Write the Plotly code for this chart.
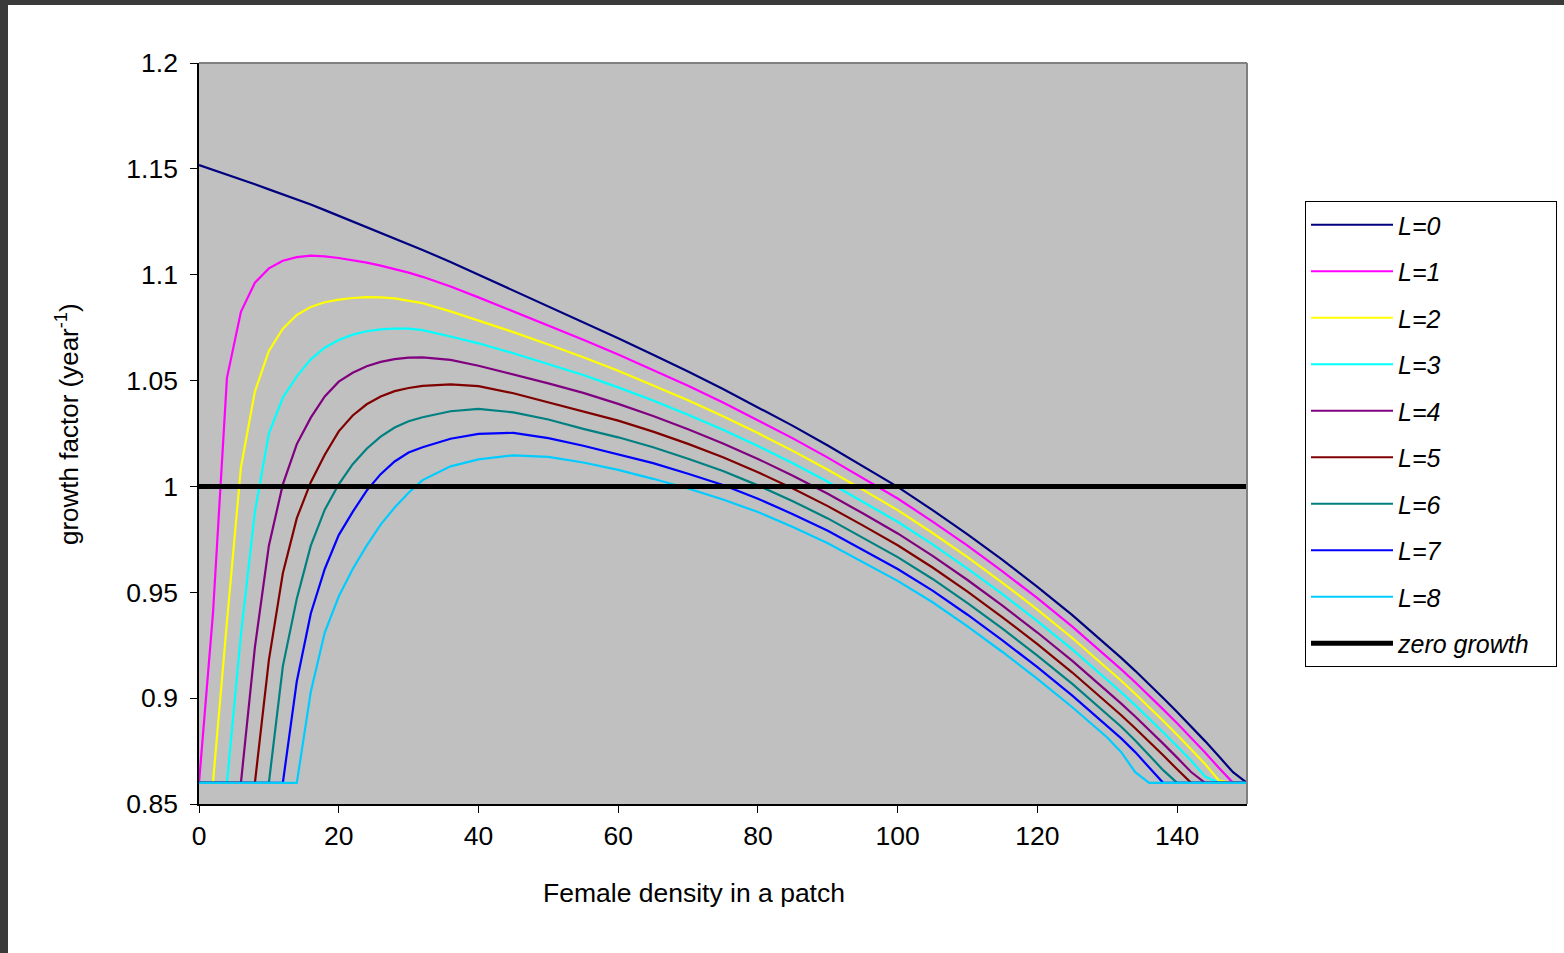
import plotly.graph_objects as go

# Female density in a patch (shared x for all series)
density = [0, 2, 4, 6, 8, 10, 12, 14, 16, 18, 20, 22, 24, 26, 28, 30, 32, 36, 40,
           45, 50, 55, 60, 65, 70, 75, 80, 85, 90, 95, 100, 105, 110, 115, 120, 125,
           130, 132, 134, 136, 138, 140, 142, 144, 146, 148, 150]

L0 = [1.1518, 1.1496, 1.1473, 1.1450, 1.1427, 1.1403, 1.1380, 1.1356, 1.1332, 1.1305,
      1.1278, 1.1252, 1.1226, 1.1199, 1.1172, 1.1145, 1.1117, 1.1060, 1.1000,
      1.0925, 1.0850, 1.0776, 1.0700, 1.0622, 1.0543, 1.0460, 1.0374, 1.0286, 1.0193,
      1.0097, 0.9998, 0.9888, 0.9774, 0.9653, 0.9526, 0.9392,
      0.9249, 0.9190, 0.9129, 0.9066, 0.9001, 0.8935, 0.8867, 0.8797, 0.8724, 0.8650, 0.8600]

L1 = [0.86, 0.940, 1.0513, 1.0825, 1.0962, 1.1030, 1.1066, 1.1083, 1.1090, 1.1087,
      1.1079, 1.1069, 1.1057, 1.1043, 1.1027, 1.1010, 1.0990, 1.0944, 1.0893,
      1.0827, 1.0760, 1.0693, 1.0623, 1.0550, 1.0475, 1.0396, 1.0313, 1.0227, 1.0136,
      1.0041, 0.9943, 0.9834, 0.9720, 0.9599, 0.9472, 0.9338,
      0.9195, 0.9136, 0.9075, 0.9012, 0.8947, 0.8881, 0.8813, 0.8743, 0.8670, 0.86, 0.86]

L2 = [0.86, 0.86, 0.936, 1.009, 1.0448, 1.0640, 1.0745, 1.0810, 1.0848, 1.0870,
      1.0882, 1.0890, 1.0894, 1.0893, 1.0888, 1.0878, 1.0866, 1.0827, 1.0785,
      1.0729, 1.0670, 1.0610, 1.0546, 1.0478, 1.0407, 1.0332, 1.0252, 1.0168, 1.0079,
      0.9985, 0.9888, 0.9780, 0.9666, 0.9545, 0.9418, 0.9284,
      0.9141, 0.9082, 0.9021, 0.8958, 0.8893, 0.8827, 0.8759, 0.8689, 0.8610, 0.86, 0.86]

L3 = [0.86, 0.86, 0.86, 0.930, 0.988, 1.025, 1.042, 1.052, 1.060, 1.0655,
      1.0692, 1.0717, 1.0733, 1.0742, 1.0746, 1.0745, 1.0738, 1.0708, 1.0676,
      1.0629, 1.0578, 1.0526, 1.0468, 1.0406, 1.0339, 1.0268, 1.0191, 1.0109, 1.0022,
      0.9929, 0.9833, 0.9726, 0.9612, 0.9491, 0.9364, 0.9230,
      0.9087, 0.9028, 0.8967, 0.8904, 0.8839, 0.8773, 0.8705, 0.8630, 0.86, 0.86, 0.86]

L4 = [0.86, 0.86, 0.86, 0.86, 0.924, 0.972, 1.001, 1.020, 1.0325, 1.0425,
      1.0495, 1.0537, 1.0568, 1.0588, 1.0601, 1.0608, 1.0610, 1.0598, 1.0570,
      1.0529, 1.0487, 1.0442, 1.0390, 1.0333, 1.0270, 1.0203, 1.0130, 1.0050, 0.9965,
      0.9873, 0.9778, 0.9672, 0.9558, 0.9437, 0.9310, 0.9176,
      0.9033, 0.8974, 0.8913, 0.8850, 0.8785, 0.8719, 0.8651, 0.86, 0.86, 0.86, 0.86]

L5 = [0.86, 0.86, 0.86, 0.86, 0.86, 0.918, 0.959, 0.985, 1.002, 1.015,
      1.026, 1.0335, 1.0388, 1.0425, 1.0450, 1.0465, 1.0475, 1.0482, 1.0474,
      1.0440, 1.0398, 1.0356, 1.0311, 1.0259, 1.0201, 1.0138, 1.0067, 0.9990, 0.9907,
      0.9816, 0.9722, 0.9617, 0.9503, 0.9382, 0.9255, 0.9121,
      0.8978, 0.8919, 0.8858, 0.8795, 0.8730, 0.8664, 0.86, 0.86, 0.86, 0.86, 0.86]

L6 = [0.86, 0.86, 0.86, 0.86, 0.86, 0.86, 0.915, 0.947, 0.972, 0.989,
      1.001, 1.0105, 1.0178, 1.0235, 1.0278, 1.0308, 1.0327, 1.0355, 1.0366,
      1.0350, 1.0316, 1.0272, 1.0232, 1.0185, 1.0131, 1.0073, 1.0005, 0.9930, 0.9849,
      0.9759, 0.9666, 0.9563, 0.9449, 0.9328, 0.9201, 0.9067,
      0.8924, 0.8865, 0.8800, 0.8732, 0.8660, 0.86, 0.86, 0.86, 0.86, 0.86, 0.86]

L7 = [0.86, 0.86, 0.86, 0.86, 0.86, 0.86, 0.86, 0.908, 0.940, 0.961,
      0.977, 0.988, 0.998, 1.0058, 1.0118, 1.0160, 1.0185, 1.0225, 1.0248,
      1.0253, 1.0228, 1.0192, 1.0151, 1.0110, 1.0060, 1.0007, 0.9942, 0.9869, 0.9791,
      0.9702, 0.9610, 0.9508, 0.9394, 0.9273, 0.9146, 0.9012,
      0.8869, 0.8810, 0.8745, 0.8670, 0.86, 0.86, 0.86, 0.86, 0.86, 0.86, 0.86]

L8 = [0.86, 0.86, 0.86, 0.86, 0.86, 0.86, 0.86, 0.86, 0.903, 0.931,
      0.948, 0.961, 0.972, 0.982, 0.990, 0.997, 1.003, 1.0095, 1.0128,
      1.0147, 1.0140, 1.0113, 1.0078, 1.0036, 0.9990, 0.9938, 0.9879, 0.9808, 0.9732,
      0.9645, 0.9554, 0.9453, 0.9339, 0.9218, 0.9091, 0.8957,
      0.8814, 0.8745, 0.8650, 0.86, 0.86, 0.86, 0.86, 0.86, 0.86, 0.86, 0.86]

zero_x = [0, 150]
zero_y = [1.0, 1.0]

series_names = ["L=0", "L=1", "L=2", "L=3", "L=4", "L=5", "L=6", "L=7", "L=8"]
series_values = [L0, L1, L2, L3, L4, L5, L6, L7, L8]
series_colors = ["#000080", "#FF00FF", "#FFFF00", "#00FFFF", "#800080",
                 "#800000", "#008080", "#0000FF", "#00CCFF"]

x_ticks = [0, 20, 40, 60, 80, 100, 120, 140]

FONT = "Liberation Sans, Arial, sans-serif"

fig = go.Figure()
for i, (name, vals, col) in enumerate(zip(series_names, series_values, series_colors)):
    fig.add_trace(go.Scatter(x=density, y=vals, mode="lines", name="<i>" + name + "</i>",
                             legendgroup="g%d" % i,
                             line=dict(color=col, width=2.2)))
fig.add_trace(go.Scatter(x=zero_x, y=zero_y, mode="lines",
                         name="<i>zero growth</i>&nbsp;&nbsp;&nbsp;",
                         legendgroup="gz", line=dict(color="black", width=5)))

# page layout: the figure sits at (8, 5) inside a dark page frame
OX, OY = 8, 5
PAGE_W, PAGE_H = 1564, 953
W, H = PAGE_W - OX, PAGE_H - OY
plot_left, plot_top, plot_right, plot_bottom = 199, 63, 1247, 804   # page px
ml, mt = plot_left - OX, plot_top - OY
pw, ph = plot_right - plot_left, plot_bottom - plot_top
mr, mb = W - ml - pw, H - mt - ph

def px_to_paper_x(px):
    return (px - plot_left) / pw

def px_to_paper_y(py):
    return (plot_bottom - py) / ph

def px_to_container_x(px):
    return (px - OX) / W

def px_to_container_y(py):
    return 1 - (py - OY) / H

fig.update_layout(
    width=W, height=H,
    margin=dict(l=ml, r=mr, t=mt, b=mb, pad=0),
    paper_bgcolor="white",
    plot_bgcolor="#C0C0C0",
    font=dict(family=FONT, size=26, color="black"),
    showlegend=True,
    legend=dict(xref="container", yref="container",
                x=px_to_container_x(1305), y=px_to_container_y(201),
                xanchor="left", yanchor="top",
                bgcolor="white", bordercolor="black", borderwidth=1,
                font=dict(family=FONT, size=25, color="black"),
                tracegroupgap=11, itemwidth=82, traceorder="grouped"),
    xaxis=dict(range=[0, 150], tickvals=x_ticks, ticks="outside", ticklen=7,
               tickcolor="black", tickwidth=1, showline=True, linecolor="black",
               linewidth=1.5, showgrid=False, zeroline=False, automargin=False,
               tickfont=dict(family=FONT, size=26.5, color="black"),
               ticklabelstandoff=0),
    yaxis=dict(range=[0.85, 1.2], tick0=0.85, dtick=0.05, ticks="outside", ticklen=7,
               tickcolor="black", tickwidth=1, showline=True, linecolor="black",
               linewidth=1.5, showgrid=False, zeroline=False, automargin=False,
               tickfont=dict(family=FONT, size=26.5, color="black"),
               ticklabelstandoff=7),
    annotations=[
        dict(text="Female density in a patch", xref="paper", yref="paper",
             x=px_to_paper_x(694), y=px_to_paper_y(893), xanchor="center", yanchor="middle",
             showarrow=False, font=dict(family=FONT, size=26.5, color="black")),
        dict(text="growth factor (year<sup>-1</sup>)", xref="paper", yref="paper",
             x=px_to_paper_x(67), y=px_to_paper_y(424), xanchor="center", yanchor="middle",
             textangle=-90, showarrow=False, font=dict(family=FONT, size=26, color="black")),
    ],
    shapes=[
        # gray plot-area border on top and right
        dict(type="line", xref="paper", yref="paper", x0=0, x1=1, y0=1, y1=1,
             line=dict(color="#808080", width=2)),
        dict(type="line", xref="paper", yref="paper", x0=1, x1=1, y0=0, y1=1,
             line=dict(color="#808080", width=2)),
    ],
)

fig.write_html(
    "out.html",
    post_script="document.body.style.margin='%dpx 0 0 %dpx';"
                "document.body.style.background='#3A3A3A';"
                "document.body.style.overflow='hidden';" % (OY, OX),
)
